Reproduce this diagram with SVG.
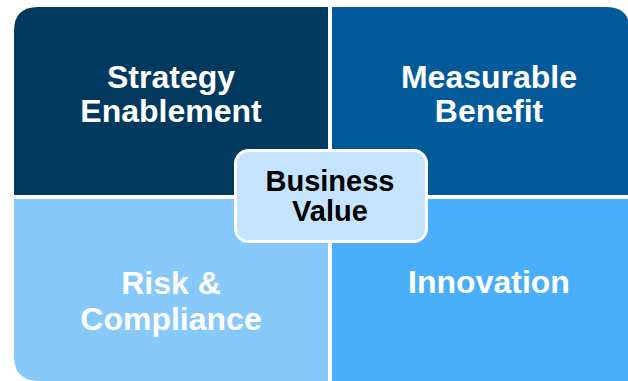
<svg xmlns="http://www.w3.org/2000/svg" width="628" height="381" viewBox="0 0 628 381">
<style>
.q{font-family:"Liberation Sans",Arial,sans-serif;font-weight:bold;font-size:32px;fill:#ffffff;text-anchor:middle}
.c{font-family:"Liberation Sans",Arial,sans-serif;font-weight:bold;font-size:29px;fill:#000000;text-anchor:middle}
</style>
<rect width="628" height="381" fill="#ffffff"/>
<g id="strategy">
<path d="M14 31 Q14 7 38 7 H328 V195 H14 Z" fill="#02395f"/>
<text class="q" x="171" y="88">Strategy</text>
<text class="q" x="171" y="122">Enablement</text>
</g>
<g id="measurable">
<path d="M332 7 H606 Q630 7 630 31 V195 H332 Z" fill="#035a9b"/>
<text class="q" x="489" y="88">Measurable</text>
<text class="q" x="489" y="122">Benefit</text>
</g>
<g id="risk">
<path d="M14 199 H328 V381 H39 Q14 381 14 356 Z" fill="#88c9fb"/>
<text class="q" x="171" y="294">Risk &amp;</text>
<text class="q" x="171" y="330">Compliance</text>
</g>
<g id="innovation">
<path d="M332 199 H630 V381 H332 Z" fill="#4aaffb"/>
<text class="q" x="489" y="293">Innovation</text>
</g>
<g id="business-value">
<rect x="235.5" y="150.5" width="191" height="91" rx="13" fill="#c4e4fd" stroke="#ffffff" stroke-width="3"/>
<text class="c" x="330" y="191">Business</text>
<text class="c" x="330" y="221">Value</text>
</g>
<g id="connectors"></g>
</svg>
